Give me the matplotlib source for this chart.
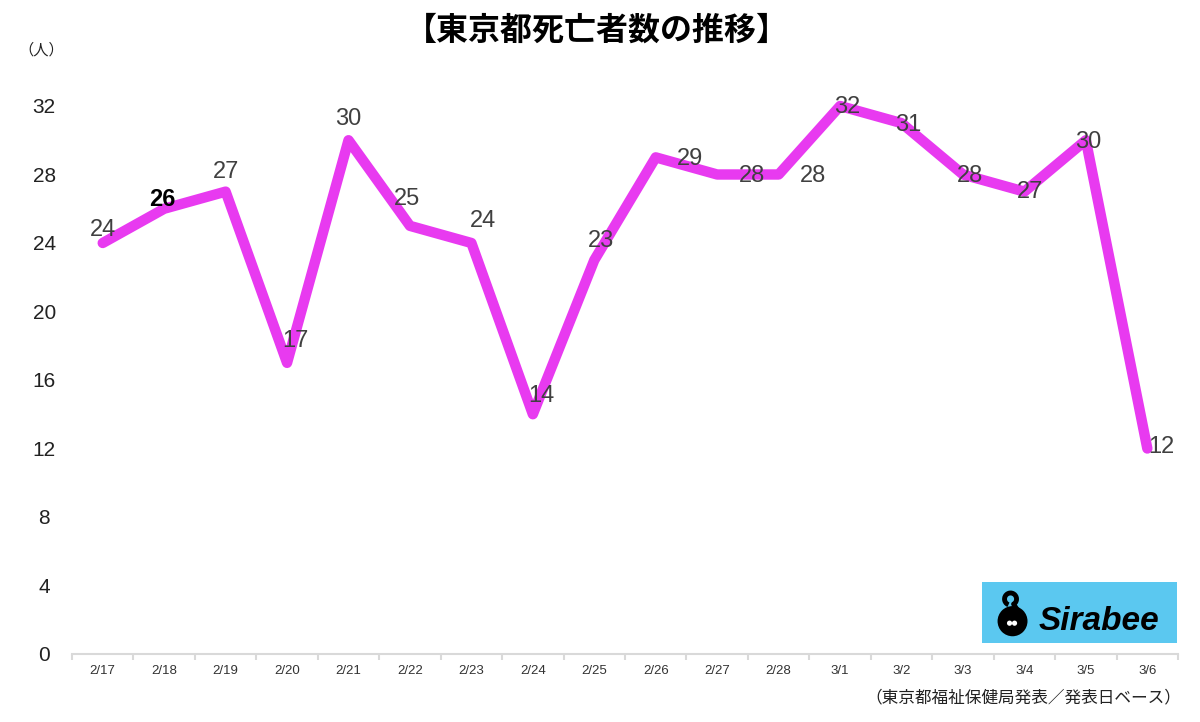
import matplotlib.pyplot as plt
from matplotlib.patches import Circle, Arc

plt.rcParams['font.family'] = ['Liberation Sans', 'Noto Sans CJK JP', 'DejaVu Sans']

dates = ['2/17', '2/18', '2/19', '2/20', '2/21', '2/22', '2/23', '2/24', '2/25',
         '2/26', '2/27', '2/28', '3/1', '3/2', '3/3', '3/4', '3/5', '3/6']
deaths = [24, 26, 27, 17, 30, 25, 24, 14, 23, 29, 28, 28, 32, 31, 28, 27, 30, 12]
yticks = [0, 4, 8, 12, 16, 20, 24, 28, 32]

# label offsets (points) roughly where excel put them
label_dx = [0, -1, 0, 6, 0, -2, 8, 6, 5, 25, 25, 25, 5, 5, 5, 4, 2, 10]
label_dy = [9, 7, 14, 16, 15, 19, 16, 13, 14, -1, -1, -1, -1, -1, -1, 0, -1, 1]

lineColor = '#E83AF0'
textColor = '#404040'
axisColor = '#d9d9d9'

fig = plt.figure(figsize=(12, 7.22), dpi=100)
ax = fig.add_axes([0.06, 0.0942, 0.9217, 0.759])

x = list(range(len(dates)))
ax.plot(x, deaths, color=lineColor, lw=7.5, solid_joinstyle='round', solid_capstyle='round',
        clip_on=False, zorder=2)

for i, v in enumerate(deaths):
    c = 'black' if i == 1 else textColor
    ax.annotate(str(v), (i, v), xytext=(label_dx[i], label_dy[i]), textcoords='offset points',
                ha='center', va='center', fontsize=17, color=c, zorder=3,
                fontweight='bold' if i == 1 else 'normal')

ax.set_xlim(-0.5, len(dates) - 0.5)
ax.set_ylim(0, 32)
ax.set_yticks(yticks)
ax.set_yticklabels([str(t) for t in yticks], fontsize=15, color='#222222', ha='center')
ax.tick_params(axis='y', length=0, pad=20)

ax.set_xticks(x)
ax.set_xticklabels(dates, fontsize=9.5, color='#333333')
ax.set_xticks([i - 0.5 for i in range(len(dates) + 1)], minor=True)
ax.tick_params(axis='x', which='major', length=0, pad=8)
ax.tick_params(axis='x', which='minor', length=4, color=axisColor, width=1.5)

for s in ['top', 'right', 'left']:
    ax.spines[s].set_visible(False)
ax.spines['bottom'].set_color(axisColor)
ax.spines['bottom'].set_linewidth(1.5)

fig.text(0.497, 0.958, '【東京都死亡者数の推移】', fontsize=23, fontweight='bold',
         ha='center', va='center', family=['Noto Sans CJK JP'])
fig.text(0.034, 0.931, '（人）', fontsize=11, ha='center', va='center', color='#222222',
         family=['Noto Sans CJK JP'])
fig.text(0.984, 0.034, '（東京都福祉保健局発表／発表日ベース）', fontsize=12, ha='right',
         va='center', color='#222222', family=['Noto Sans CJK JP'])

# Sirabee logo box, drawn in its own pixel-sized axes
lg = fig.add_axes([0.818, 0.109, 0.163, 0.085])
lg.set_xlim(0, 196)
lg.set_ylim(0, 61)
lg.set_facecolor('#5BC8F0')
lg.set_xticks([])
lg.set_yticks([])
for s in lg.spines.values():
    s.set_visible(False)
lg.add_patch(Circle((31, 22), 15, facecolor='black'))
lg.add_patch(Arc((29, 44), 12, 12, theta1=-60, theta2=250, color='black', lw=3.5))
lg.plot([32, 38], [39, 30], color='black', lw=3.5, solid_capstyle='round')
lg.add_patch(Circle((28, 20), 2.6, facecolor='white'))
lg.add_patch(Circle((33, 20), 2.6, facecolor='white'))
lg.text(118, 22, 'Sirabee', fontsize=24, fontweight='bold', style='italic',
        ha='center', va='center', color='black')

fig.savefig('out.png', dpi=100)
